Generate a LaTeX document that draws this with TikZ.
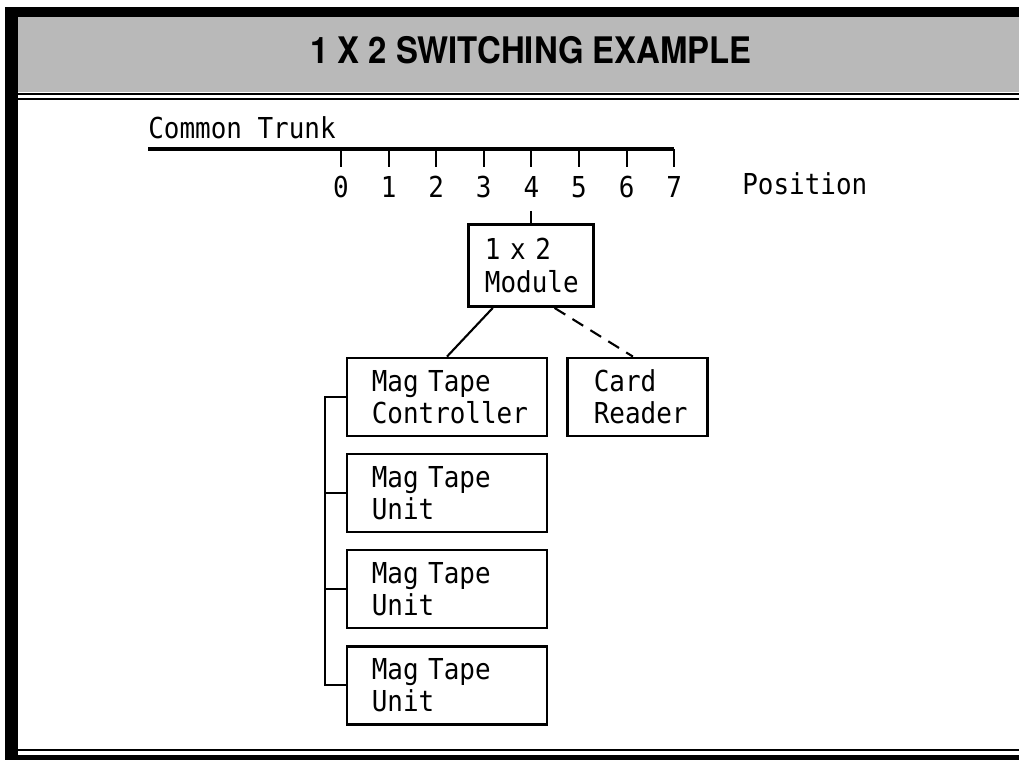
\documentclass[tikz,border=0pt]{standalone}
\usepackage{fontspec}
\setmonofont{DejaVu Sans Mono}[FakeStretch=0.9]
\newfontfamily\titlefont{TeX Gyre Heros}[FakeStretch=0.9]
\usetikzlibrary{positioning}

\begin{document}
\begin{tikzpicture}[
    x=0.025cm, y=-0.025cm,
    every node/.style={font=\fontsize{20.5}{23}\selectfont\ttfamily},
    box/.style={draw, line width=2pt, minimum height=1.95cm, align=left},
    tapebox/.style={box, text width=3.76cm, inner xsep=0.62cm},
    link/.style={line width=1.5pt}
]
\useasboundingbox (0,0) rectangle (1019,760);

% frame and title band
\fill[gray!55] (5,17) rectangle (1019,92);
\fill[black] (5,7) rectangle (1019,17);
\draw[line width=2pt] (5,94) -- (1019,94);
\draw[line width=0.8pt] (5,99) -- (1019,99);
\fill[black] (5,7) rectangle (18,760);
\draw[line width=0.8pt] (18,750) -- (1019,750);
\fill[black] (18,755) rectangle (1019,760);
\node (title) at (531,50) {\titlefont\bfseries\fontsize{26}{28}\selectfont 1 X 2 SWITCHING EXAMPLE};

% common trunk with positions
\node (trunk) [anchor=base west, inner sep=0] at (148,139) {Common Trunk};
\draw[line width=2.2pt] (148,149) -- (674,149);
\foreach \i in {0,...,7} {
    \draw[link] (341+47.6*\i,149) -- (341+47.6*\i,167);
    \node (pos-\i) [anchor=base, inner sep=0] at (341+47.6*\i,198) {\i};
}
\node (position) [anchor=base west, inner sep=0] at (742,195) {Position};

% switch and devices
\node (module) [box, minimum height=2.05cm, text width=2.3cm, inner xsep=0.42cm] at (531,265.5) {1 x 2\\Module};
\node (mtc) [tapebox] at (447,397) {Mag Tape\\Controller};
\node (card) [box, text width=2.2cm, inner xsep=0.65cm, right=0.45cm of mtc] {Card\\Reader};
\node (unit1) [tapebox, below=0.38cm of mtc] {Mag Tape\\Unit};
\node (unit2) [tapebox, below=0.38cm of unit1] {Mag Tape\\Unit};
\node (unit3) [tapebox, below=0.38cm of unit2] {Mag Tape\\Unit};

\draw[link] (module.north |- 0,211) -- (module.north);
\draw[link] (module.228) -- (mtc.north);
\draw[link, dash pattern=on 9pt off 6pt] (module.299) -- (card.97);

% tape bus
\draw[link] (mtc.west) -- ++(-21,0) |- (unit3.west);
\foreach \u in {unit1, unit2} {
    \draw[link] (\u.west) -- ++(-21,0);
}
\end{tikzpicture}
\end{document}
